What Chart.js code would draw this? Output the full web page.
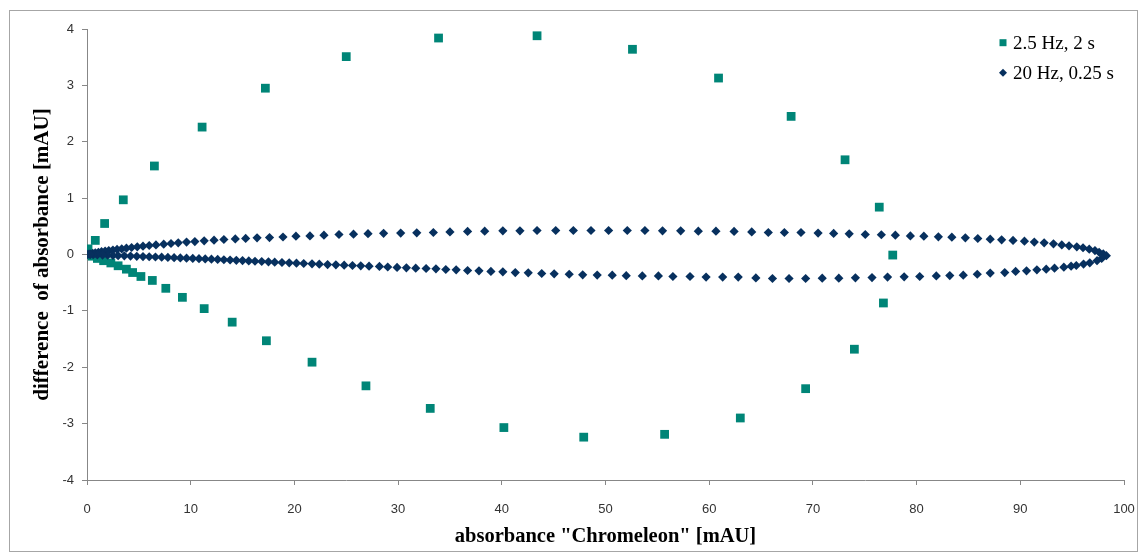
<!DOCTYPE html>
<html lang="en">
<head>
    <meta charset="UTF-8">
    <title>Absorbance difference vs Chromeleon</title>
    <script src="https://cdn.jsdelivr.net/npm/chart.js"></script>
    <style>
        body {
            margin: 0;
            background: #fff;
        }

        .wrap {
            position: relative;
            width: 1140px;
            height: 558px;
        }

        .frame {
            position: absolute;
            left: 9px;
            top: 10px;
            width: 1127px;
            height: 540px;
            border: 1px solid #a6a6a6;
            pointer-events: none;
        }
    </style>
</head>
<body>
<div class="wrap">
    <canvas id="chart" width="1140" height="558"></canvas>
    <div class="frame"></div>
</div>
<script>
    // 2.5 Hz, 2 s  (teal squares)
    const slowX = [0, 0.1, 0.8, 1.7, 3.5, 6.5, 11.1, 17.2, 25.0, 33.9, 43.4, 52.6, 60.9, 67.9, 73.1, 76.4, 77.7,
        76.8, 74.0, 69.3, 63.0, 55.7, 47.9, 40.2, 33.1, 26.9, 21.7, 17.3, 14.0, 11.3, 9.2, 7.6, 6.3, 5.2, 4.4, 3.8,
        3.0, 2.3, 1.6, 1.0, 0.5];
    const slowY = [0, 0.1, 0.25, 0.55, 0.97, 1.57, 2.26, 2.95, 3.51, 3.84, 3.88, 3.64, 3.13, 2.45, 1.68, 0.84, -0.01,
        -0.86, -1.68, -2.38, -2.90, -3.19, -3.24, -3.07, -2.73, -2.33, -1.91, -1.53, -1.20, -0.96, -0.76, -0.60, -0.46,
        -0.39, -0.32, -0.26, -0.20, -0.15, -0.11, -0.07, -0.03];

    // 20 Hz, 0.25 s  (navy diamonds) - upper branch out, lower branch back
    const fastX = [0, 0.1, 0.3, 0.55, 0.8, 1.1, 1.4, 1.75, 2.1, 2.5, 2.9, 3.35, 3.8, 4.3, 4.85, 5.4, 6.0, 6.65, 7.4,
        8.1, 8.8, 9.6, 10.4, 11.3, 12.25, 13.2, 14.3, 15.3, 16.4, 17.6, 18.9, 20.15, 21.5, 22.85, 24.3, 25.7, 27.1,
        28.6, 30.25, 31.8, 33.4, 35.0, 36.7, 38.35, 40.1, 41.75, 43.4, 45.2, 46.9, 48.6, 50.3, 52.1, 53.8, 55.5, 57.25,
        58.95, 60.65, 62.4, 64.1, 65.7, 67.25, 68.85, 70.5, 72.0, 73.5, 75.05, 76.6, 77.95, 79.4, 80.7, 82.1, 83.4,
        84.7, 85.9, 87.1, 88.2, 89.3, 90.4, 91.35, 92.3, 93.2, 94.0, 94.7, 95.45, 96.05, 96.65, 97.2, 97.6, 98.0, 98.3,
        97.85, 97.4, 96.7, 96.1, 95.4, 94.9, 94.2, 93.3, 92.5, 91.6, 90.6, 89.55, 88.5, 87.1, 85.85, 84.5, 83.2, 81.9,
        80.3, 78.8, 77.2, 75.7, 74.1, 72.5, 70.9, 69.3, 67.7, 66.1, 64.5, 62.8, 61.3, 59.7, 58.15, 56.5, 55.1, 53.55,
        52.0, 50.65, 49.2, 47.8, 46.5, 45.05, 43.85, 42.55, 41.3, 40.1, 38.95, 37.8, 36.7, 35.6, 34.6, 33.65, 32.7,
        31.7, 30.8, 29.9, 29.0, 28.2, 27.2, 26.4, 25.6, 24.8, 24.0, 23.2, 22.4, 21.7, 20.9, 20.2, 19.5, 18.8, 18.1,
        17.5, 16.85, 16.2, 15.6, 15.0, 14.4, 13.8, 13.2, 12.6, 12.0, 11.4, 10.8, 10.2, 9.6, 9.0, 8.4, 7.8, 7.2, 6.6,
        6.0, 5.4, 4.8, 4.2, 3.6, 3.0, 2.5, 2.0, 1.5, 1.0, 0.6, 0.3];
    const fastY = [0, 0.005, 0.012, 0.02, 0.03, 0.04, 0.05, 0.06, 0.07, 0.08, 0.09, 0.10, 0.112, 0.124, 0.136, 0.147,
        0.16, 0.17, 0.183, 0.195, 0.207, 0.22, 0.23, 0.243, 0.254, 0.266, 0.276, 0.285, 0.295, 0.30, 0.31, 0.325,
        0.33, 0.343, 0.355, 0.36, 0.37, 0.376, 0.38, 0.385, 0.39, 0.40, 0.41, 0.414, 0.42, 0.42, 0.426, 0.426, 0.426,
        0.426, 0.426, 0.426, 0.426, 0.42, 0.42, 0.414, 0.414, 0.41, 0.40, 0.39, 0.39, 0.39, 0.38, 0.373, 0.367,
        0.355, 0.35, 0.343, 0.33, 0.325, 0.314, 0.308, 0.296, 0.284, 0.272, 0.26, 0.25, 0.236, 0.22, 0.207, 0.19,
        0.17, 0.154, 0.136, 0.12, 0.095, 0.07, 0.04, 0.01, -0.02,
        -0.07, -0.11, -0.148, -0.17, -0.195, -0.207, -0.225, -0.243, -0.26, -0.272, -0.29, -0.30, -0.32, -0.33,
        -0.35, -0.367, -0.373, -0.38, -0.39, -0.396, -0.40, -0.41, -0.414, -0.42, -0.42, -0.426, -0.426, -0.426,
        -0.415, -0.40, -0.40, -0.40, -0.39, -0.39, -0.38, -0.38, -0.375, -0.367, -0.365, -0.36, -0.35, -0.343,
        -0.337, -0.325, -0.32, -0.307, -0.30, -0.29, -0.284, -0.272, -0.266, -0.254, -0.248, -0.243, -0.236, -0.23,
        -0.222, -0.212, -0.207, -0.20, -0.195, -0.19, -0.183, -0.178, -0.172, -0.166, -0.16, -0.154, -0.148, -0.142,
        -0.136, -0.13, -0.124, -0.12, -0.114, -0.108, -0.103, -0.098, -0.093, -0.088, -0.083, -0.078, -0.074, -0.07,
        -0.065, -0.06, -0.056, -0.052, -0.048, -0.044, -0.04, -0.036, -0.032, -0.028, -0.024, -0.02, -0.017, -0.013,
        -0.01, -0.007, -0.004, -0.002];

    const seriesNames = ['2.5 Hz, 2 s', '20 Hz, 0.25 s'];
    const tealColor = '#008577';
    const navyColor = '#07305e';
    const axisColor = '#878787';

    const toPoints = (xs, ys) => xs.map((x, i) => ({x: x, y: ys[i]}));

    // legend drawn inside the plot, top right, stacked like the original
    const cornerLegend = {
        id: 'cornerLegend',
        afterDraw(chart) {
            const ctx = chart.ctx;
            const x0 = 1003;
            const rows = [42.7, 72.7];
            ctx.save();
            ctx.font = '19px "Liberation Serif", "Times New Roman", serif';
            ctx.textBaseline = 'middle';

            // square marker
            ctx.fillStyle = tealColor;
            ctx.fillRect(x0 - 3.5, rows[0] - 3.5, 7, 7);
            // diamond marker
            ctx.fillStyle = navyColor;
            ctx.beginPath();
            ctx.moveTo(x0 - 4, rows[1]);
            ctx.lineTo(x0, rows[1] - 4);
            ctx.lineTo(x0 + 4, rows[1]);
            ctx.lineTo(x0, rows[1] + 4);
            ctx.closePath();
            ctx.fill();

            ctx.fillStyle = '#000';
            seriesNames.forEach((name, i) => ctx.fillText(name, x0 + 10, rows[i] + 1));
            ctx.restore();
        }
    };

    const ctx = document.getElementById('chart').getContext('2d');
    new Chart(ctx, {
        type: 'scatter',
        data: {
            datasets: [{
                label: seriesNames[0],
                data: toPoints(slowX, slowY),
                pointStyle: 'rect',
                pointRadius: 6.2,
                backgroundColor: tealColor,
                borderWidth: 0,
                order: 1
            }, {
                label: seriesNames[1],
                data: toPoints(fastX, fastY),
                pointStyle: 'rectRot',
                pointRadius: 4.6,
                backgroundColor: navyColor,
                borderWidth: 0,
                order: 0
            }]
        },
        options: {
            responsive: false,
            animation: false,
            layout: {
                padding: {top: 29, right: 16, left: 0, bottom: 0}
            },
            plugins: {
                legend: {display: false},
                tooltip: {enabled: false}
            },
            scales: {
                x: {
                    type: 'linear',
                    min: 0,
                    max: 100,
                    afterFit: s => {
                        s.height = 78;
                        s.paddingLeft = 0;
                        s.paddingRight = 0;
                    },
                    ticks: {
                        stepSize: 10,
                        padding: 17,
                        color: '#333',
                        font: {family: '"Liberation Sans", Arial, sans-serif', size: 13}
                    },
                    grid: {
                        drawOnChartArea: false,
                        drawTicks: true,
                        tickLength: 5,
                        color: axisColor
                    },
                    border: {display: true, color: axisColor},
                    title: {
                        display: true,
                        text: 'absorbance "Chromeleon" [mAU]',
                        color: '#000',
                        padding: {top: 0, bottom: 9},
                        font: {family: '"Liberation Serif", "Times New Roman", serif', size: 20.5, weight: 'bold'}
                    }
                },
                y: {
                    min: -4,
                    max: 4,
                    afterFit: s => {
                        s.width = 87;
                        s.paddingTop = 0;
                        s.paddingBottom = 0;
                    },
                    ticks: {
                        stepSize: 1,
                        padding: 8,
                        color: '#333',
                        font: {family: '"Liberation Sans", Arial, sans-serif', size: 13}
                    },
                    grid: {
                        drawOnChartArea: false,
                        drawTicks: true,
                        tickLength: 5,
                        color: axisColor
                    },
                    border: {display: true, color: axisColor},
                    title: {
                        display: true,
                        text: 'difference  of absorbance [mAU]',
                        color: '#000',
                        padding: {top: 29.5, bottom: 0},
                        font: {family: '"Liberation Serif", "Times New Roman", serif', size: 21, weight: 'bold'}
                    }
                }
            }
        },
        plugins: [cornerLegend]
    });
</script>
</body>
</html>
